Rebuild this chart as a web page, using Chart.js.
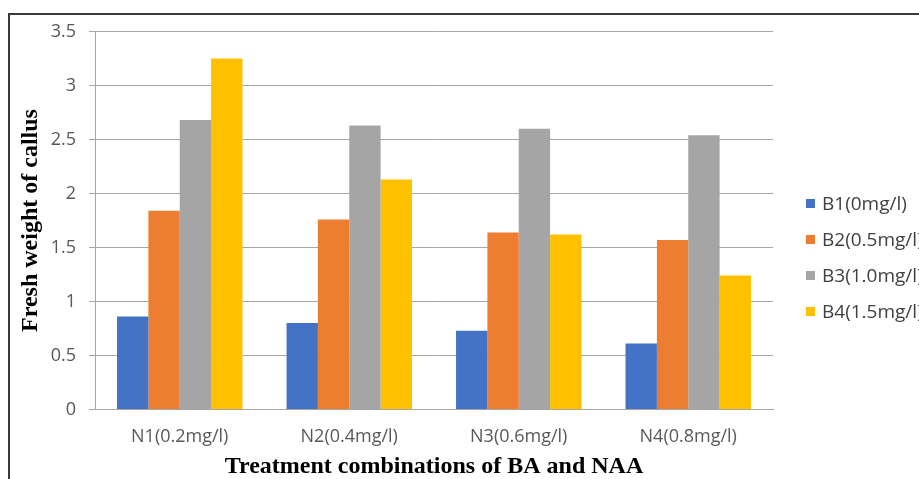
<!DOCTYPE html>
<html>
<head>
<meta charset="utf-8">
<script src="https://cdn.jsdelivr.net/npm/chart.js@4/dist/chart.umd.min.js"></script>
<style>
  html, body { margin: 0; padding: 0; background: #fff; }
  #wrap { position: relative; width: 919px; height: 479px; overflow: hidden; }
  #frame { position: absolute; left: 8px; top: 13px; width: 940px; height: 500px;
           border-left: 2px solid #3a3a3a; border-top: 2px solid #3a3a3a; }
  canvas { position: absolute; left: 0; top: 0; }
</style>
</head>
<body>
<div id="wrap">
  <div id="frame"></div>
  <canvas id="c" width="919" height="479"></canvas>
</div>
<script>
const categories = ['N1(0.2mg/l)', 'N2(0.4mg/l)', 'N3(0.6mg/l)', 'N4(0.8mg/l)'];
const seriesNames = ['B1(0mg/l)', 'B2(0.5mg/l)', 'B3(1.0mg/l)', 'B4(1.5mg/l)'];
const b1 = [0.86, 0.80, 0.73, 0.61];
const b2 = [1.84, 1.76, 1.64, 1.57];
const b3 = [2.68, 2.63, 2.60, 2.54];
const b4 = [3.25, 2.13, 1.62, 1.24];
const colors = ['#4472C4', '#ED7D31', '#A5A5A5', '#FFC000'];
const yTitle = 'Fresh weight of callus';
const xTitle = 'Treatment combinations of BA and NAA';

const labelFont = { family: "'Open Sans', sans-serif", size: 18 };
const textColor = '#595959';

const legendPlugin = {
  id: 'sideLegend',
  afterDraw(chart) {
    const ctx = chart.ctx;
    ctx.save();
    ctx.font = "19px 'Open Sans', sans-serif";
    ctx.textBaseline = 'middle';
    ctx.textAlign = 'left';
    chart.data.datasets.forEach((ds, i) => {
      const y = 203.5 + i * 36;
      ctx.fillStyle = ds.backgroundColor;
      ctx.fillRect(806, y - 4.5, 9, 9);
      ctx.fillStyle = '#404040';
      ctx.fillText(ds.label, 822, y + 1);
    });
    ctx.restore();
  }
};

new Chart(document.getElementById('c'), {
  type: 'bar',
  data: {
    labels: categories,
    datasets: [
      { label: seriesNames[0], data: b1, backgroundColor: colors[0] },
      { label: seriesNames[1], data: b2, backgroundColor: colors[1] },
      { label: seriesNames[2], data: b3, backgroundColor: colors[2] },
      { label: seriesNames[3], data: b4, backgroundColor: colors[3] }
    ]
  },
  options: {
    responsive: false,
    animation: false,
    events: [],
    layout: { padding: { left: 0, right: 146, top: 31.5, bottom: 0 } },
    datasets: { bar: { categoryPercentage: 0.74, barPercentage: 1.0, borderWidth: 0 } },
    plugins: { legend: { display: false }, tooltip: { enabled: false } },
    scales: {
      x: {
        grid: { display: false, drawTicks: false },
        border: { display: true, color: '#a6a6a6', width: 1 },
        ticks: { color: textColor, font: labelFont, padding: 17, maxRotation: 0 },
        title: { display: true, text: xTitle, color: '#000',
                 font: { family: "'Liberation Serif', 'Times New Roman', serif", size: 24, weight: 'bold' },
                 padding: { top: 0, bottom: -2 } },
        afterFit(s) { s.height = 69.5; }
      },
      y: {
        min: 0, max: 3.5,
        ticks: { stepSize: 0.5, color: textColor, font: labelFont, padding: 13,
                 callback: v => String(v) },
        grid: { color: '#a6a6a6', lineWidth: 1, tickLength: 6, drawTicks: true },
        border: { display: true, color: '#a6a6a6', width: 1 },
        title: { display: true, text: yTitle, color: '#000',
                 font: { family: "'Liberation Serif', 'Times New Roman', serif", size: 24, weight: 'bold' },
                 padding: { top: 16, bottom: 0 } },
        afterFit(s) { s.width = 95; }
      }
    }
  },
  plugins: [legendPlugin]
});
</script>
</body>
</html>
